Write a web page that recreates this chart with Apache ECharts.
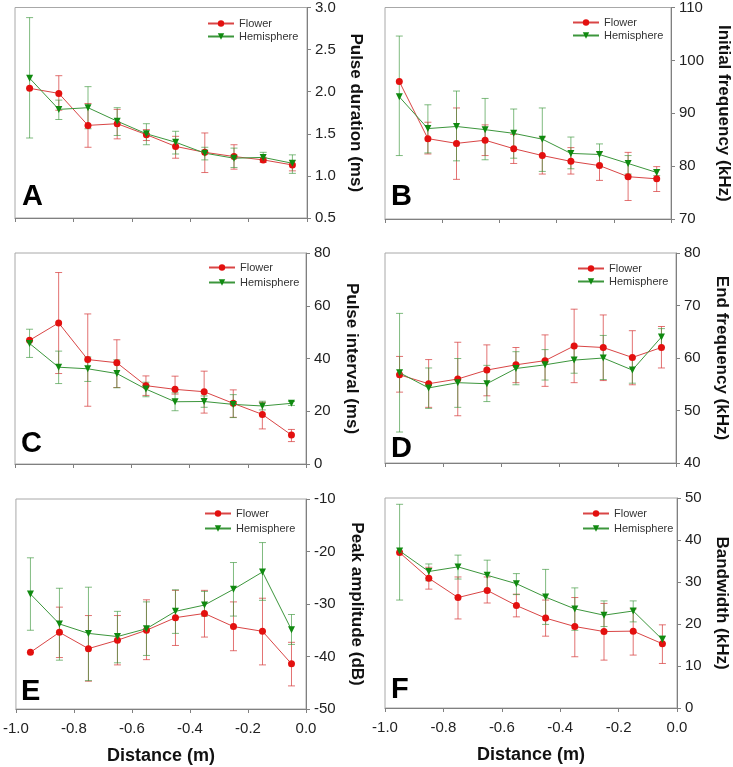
<!DOCTYPE html>
<html>
<head>
<meta charset="utf-8">
<script src="https://cdn.jsdelivr.net/npm/echarts@6/dist/echarts.min.js"></script>
<style>
html,body{margin:0;padding:0;background:#fff;}
#chart{width:733px;height:767px;}
</style>
</head>
<body>
<div id="chart"></div>
<script>
// ---------- DATA ----------
const distance = [-0.95, -0.85, -0.75, -0.65, -0.55, -0.45, -0.35, -0.25, -0.15, -0.05];
const xTicks = [-1.0, -0.8, -0.6, -0.4, -0.2, 0.0];

// A: Pulse duration (ms)
const A_flower      = [2.04, 1.98, 1.60, 1.62, 1.49, 1.35, 1.28, 1.23, 1.19, 1.13];
const A_flowerLow   = [null, 1.78, 1.34, 1.44, 1.42, 1.21, 1.04, 1.08, 1.16, 1.06];
const A_flowerHigh  = [null, 2.19, 1.86, 1.79, 1.55, 1.47, 1.51, 1.37, 1.22, 1.18];
const A_hemi        = [2.16, 1.79, 1.81, 1.65, 1.50, 1.40, 1.27, 1.21, 1.22, 1.15];
const A_hemiLow     = [1.45, 1.67, 1.56, 1.48, 1.37, 1.26, 1.19, 1.10, 1.18, 1.03];
const A_hemiHigh    = [2.88, 1.90, 2.06, 1.81, 1.62, 1.53, 1.34, 1.33, 1.28, 1.25];

// B: Initial frequency (kHz)
const B_flower      = [96.0, 85.2, 84.3, 84.9, 83.3, 82.0, 80.9, 80.1, 78.0, 77.6];
const B_flowerLow   = [null, 82.3, 77.5, 82.0, 80.5, 78.5, 78.5, 77.3, 73.5, 75.2];
const B_flowerHigh  = [null, 88.3, 91.0, 87.8, 86.0, 85.5, 83.5, 82.7, 82.6, 79.9];
const B_hemi        = [93.1, 87.1, 87.5, 86.9, 86.2, 85.1, 82.4, 82.2, 80.5, 78.8];
const B_hemiLow     = [82.0, 82.5, 81.0, 81.2, 81.5, 79.0, 79.5, 80.0, 78.5, 78.2];
const B_hemiHigh    = [104.6, 91.6, 94.2, 92.8, 90.8, 91.0, 85.5, 84.2, 82.0, 79.3];

// C: Pulse interval (ms)
const C_flower      = [46.9, 53.5, 39.6, 38.4, 29.7, 28.3, 27.4, 23.0, 18.8, 11.0];
const C_flowerLow   = [null, 34.3, 21.9, 29.0, 26.0, 26.5, 19.3, 17.7, 13.3, 8.5];
const C_flowerHigh  = [null, 72.6, 56.9, 47.1, 33.4, 33.3, 35.2, 28.1, 23.4, 13.1];
const C_hemi        = [45.7, 36.7, 36.1, 34.3, 28.4, 23.6, 23.7, 22.6, 22.0, 23.0];
const C_hemiLow     = [40.4, 30.5, 31.3, 28.9, 25.5, 20.2, 21.5, 17.6, 20.5, 22.2];
const C_hemiHigh    = [51.1, 42.8, 40.6, 39.5, 31.0, 27.0, 25.8, 26.3, 23.8, 23.7];

// D: End frequency (kHz)
const D_flower      = [56.8, 55.1, 56.0, 57.7, 58.7, 59.5, 62.3, 62.0, 60.1, 62.0];
const D_flowerLow   = [53.5, 50.6, 49.0, 52.8, 55.3, 54.6, 55.3, 55.7, 54.9, 58.1];
const D_flowerHigh  = [60.3, 59.7, 63.0, 62.5, 62.0, 64.4, 69.3, 68.2, 65.2, 66.0];
const D_hemi        = [57.2, 54.3, 55.3, 55.1, 58.0, 58.7, 59.6, 60.0, 57.7, 64.0];
const D_hemiLow     = [45.9, 50.4, 50.6, 51.7, 54.9, 55.8, 57.1, 55.9, 55.2, 62.0];
const D_hemiHigh    = [68.5, 58.1, 59.9, 58.6, 61.2, 61.6, 62.2, 64.3, 60.0, 65.6];

// E: Peak amplitude (dB)
const E_flower      = [-39.2, -35.4, -38.5, -36.9, -35.0, -32.6, -31.8, -34.3, -35.2, -41.4];
const E_flowerLow   = [null, -40.2, -44.7, -41.6, -40.6, -37.9, -36.3, -38.9, -41.6, -45.6];
const E_flowerHigh  = [null, -30.6, -32.2, -32.2, -29.2, -27.4, -27.4, -29.6, -28.9, -37.3];
const E_hemi        = [-28.1, -33.8, -35.6, -36.2, -34.7, -31.4, -30.2, -27.2, -23.9, -34.9];
const E_hemiLow     = [-35.0, -40.7, -44.6, -41.2, -39.8, -35.6, -32.3, -32.3, -29.3, -37.7];
const E_hemiHigh    = [-21.2, -27.0, -26.8, -31.4, -29.6, -27.3, -27.6, -22.1, -18.3, -32.0];

// F: Bandwidth (kHz)
const F_flower      = [37.0, 30.9, 26.3, 28.0, 24.4, 21.4, 19.4, 18.2, 18.3, 15.3];
const F_flowerLow   = [null, 28.3, 21.2, 25.0, 21.7, 17.1, 12.2, 11.4, 12.6, 10.6];
const F_flowerHigh  = [null, 33.5, 31.2, 31.2, 27.1, 25.7, 26.3, 24.9, 23.6, 19.8];
const F_hemi        = [37.4, 32.5, 33.6, 31.6, 29.6, 26.4, 23.6, 22.1, 23.1, 16.3];
const F_hemiLow     = [25.7, 30.3, 30.7, 28.0, 27.0, 19.9, 18.5, 19.4, 20.5, 15.3];
const F_hemiHigh    = [48.5, 34.3, 36.4, 35.2, 32.0, 33.0, 28.6, 25.5, 25.5, 17.2];

const panelLetters = ['A', 'B', 'C', 'D', 'E', 'F'];
const yNames = ['Pulse duration (ms)', 'Initial frequency (kHz)', 'Pulse interval (ms)',
                'End frequency (kHz)', 'Peak amplitude (dB)', 'Bandwidth (kHz)'];
const yMin = [0.5, 70, 0, 40, -50, 0];
const yMax = [3.0, 110, 80, 80, -10, 50];
const yInterval = [0.5, 10, 20, 10, 10, 10];
const xLabel = 'Distance (m)';
const seriesNames = ['Flower', 'Hemisphere'];

const panels = [
  [A_flower, A_flowerLow, A_flowerHigh, A_hemi, A_hemiLow, A_hemiHigh],
  [B_flower, B_flowerLow, B_flowerHigh, B_hemi, B_hemiLow, B_hemiHigh],
  [C_flower, C_flowerLow, C_flowerHigh, C_hemi, C_hemiLow, C_hemiHigh],
  [D_flower, D_flowerLow, D_flowerHigh, D_hemi, D_hemiLow, D_hemiHigh],
  [E_flower, E_flowerLow, E_flowerHigh, E_hemi, E_hemiLow, E_hemiHigh],
  [F_flower, F_flowerLow, F_flowerHigh, F_hemi, F_hemiLow, F_hemiHigh]
];

// ---------- LAYOUT / STYLE ----------
const FONT = 'Liberation Sans, Arial, sans-serif';
const grids = [
  {left: 15, top: 7, width: 292, height: 211},
  {left: 385, top: 7, width: 291, height: 212},
  {left: 15, top: 253, width: 291, height: 211},
  {left: 385, top: 253, width: 291, height: 210},
  {left: 14, top: 499, width: 292, height: 210},
  {left: 385, top: 498, width: 292, height: 210}
];
const nameGaps = [40, 44, 37, 37, 42, 36];
const legendPos = [
  {left: 207, top: 17}, {left: 572, top: 16},
  {left: 208, top: 261}, {left: 577, top: 262},
  {left: 204, top: 507}, {left: 582, top: 507}
];
const legendGaps = [2, 2, 4, 2, 4, 4];
const letterPos = [
  {left: 22, top: 182}, {left: 391, top: 182},
  {left: 21, top: 429}, {left: 391, top: 434},
  {left: 21, top: 677}, {left: 391, top: 675}
];

const RED = '#e3100f', RED_LINE = '#d94545', RED_ERR = 'rgba(215,60,60,0.72)';
const GREEN = '#108a10', GREEN_LINE = '#3c963c', GREEN_ERR = 'rgba(60,150,60,0.65)';
const TRI_DOWN = 'path://M0,0 L10,0 L5,9 Z';

function errSeries(i, lows, highs, color, name) {
  const data = [];
  distance.forEach((d, k) => {
    if (lows[k] !== null && highs[k] !== null) data.push([d, lows[k], highs[k]]);
  });
  return {
    type: 'custom', name: name + ' error', xAxisIndex: i, yAxisIndex: i,
    silent: true, z: 1,
    data: data,
    renderItem: function (params, api) {
      const x = api.value(0);
      const pLo = api.coord([x, api.value(1)]);
      const pHi = api.coord([x, api.value(2)]);
      const hw = 3.5;
      const st = {stroke: color, lineWidth: 1};
      return {
        type: 'group',
        children: [
          {type: 'line', shape: {x1: pLo[0], y1: pLo[1], x2: pHi[0], y2: pHi[1]}, style: st},
          {type: 'line', shape: {x1: pLo[0] - hw, y1: pLo[1], x2: pLo[0] + hw, y2: pLo[1]}, style: st},
          {type: 'line', shape: {x1: pHi[0] - hw, y1: pHi[1], x2: pHi[0] + hw, y2: pHi[1]}, style: st}
        ]
      };
    }
  };
}

function lineSeries(i, vals, name, lineColor, markColor, symbol, size, z) {
  return {
    type: 'line', name: name, xAxisIndex: i, yAxisIndex: i,
    data: distance.map((d, k) => [d, vals[k]]),
    symbol: symbol, symbolSize: size, showSymbol: true,
    lineStyle: {color: lineColor, width: 1},
    itemStyle: {color: markColor, borderWidth: 0},
    z: z, animation: false
  };
}

const option = {
  animation: false,
  backgroundColor: '#ffffff',
  textStyle: {fontFamily: FONT},
  grid: grids.map(g => Object.assign({show: true, borderColor: '#a8a8a8', borderWidth: 1, backgroundColor: 'transparent'}, g)),
  xAxis: grids.map((g, i) => ({
    type: 'value', gridIndex: i, min: xTicks[0], max: xTicks[xTicks.length - 1], interval: 0.2,
    position: 'bottom',
    name: i >= 4 ? xLabel : '', nameLocation: 'middle', nameGap: 38,
    nameTextStyle: {fontSize: 18, fontWeight: 'bold', color: '#111', fontFamily: FONT},
    axisLine: {show: true, onZero: false, lineStyle: {color: '#808080', width: 1}},
    axisTick: {show: true, inside: false, length: 4, lineStyle: {color: '#808080'}},
    axisLabel: {show: i >= 4, fontSize: 15, color: '#222', margin: 12, fontFamily: FONT,
                formatter: v => v.toFixed(1)},
    splitLine: {show: false}
  })),
  yAxis: grids.map((g, i) => ({
    type: 'value', gridIndex: i, position: 'right',
    min: yMin[i], max: yMax[i], interval: yInterval[i],
    name: yNames[i], nameLocation: 'middle', nameRotate: -90, nameGap: nameGaps[i],
    nameTextStyle: {fontSize: 17, fontWeight: 'bold', color: '#111', fontFamily: FONT},
    axisLine: {show: true, onZero: false, lineStyle: {color: '#808080', width: 1}},
    axisTick: {show: true, inside: false, length: 4, lineStyle: {color: '#808080'}},
    axisLabel: {fontSize: 15, color: '#222', margin: 8, fontFamily: FONT,
                formatter: v => (i === 0 ? v.toFixed(1) : String(Math.round(v)))},
    splitLine: {show: false}
  })),
  legend: grids.map((g, i) => ({
    data: seriesNames, orient: 'vertical', padding: 0,
    left: legendPos[i].left, top: legendPos[i].top + 1,
    itemWidth: 26, itemHeight: 8, itemGap: legendGaps[i],
    textStyle: {fontSize: 11, color: '#333', fontFamily: FONT},
    selectedMode: false
  })),
  title: panelLetters.map((t, i) => ({
    text: t, left: letterPos[i].left, top: letterPos[i].top, padding: 0,
    textStyle: {fontSize: 29, fontWeight: 'bold', color: '#000', fontFamily: FONT}
  })),
  series: []
};

panels.forEach((p, i) => {
  option.series.push(errSeries(i, p[1], p[2], RED_ERR, 'Flower'));
  option.series.push(errSeries(i, p[4], p[5], GREEN_ERR, 'Hemisphere'));
  option.series.push(lineSeries(i, p[0], 'Flower', RED_LINE, RED, 'circle', 7, 3));
  option.series.push(lineSeries(i, p[3], 'Hemisphere', GREEN_LINE, GREEN, TRI_DOWN, 7, 4));
});

const chart = echarts.init(document.getElementById('chart'), null, {renderer: 'canvas'});
chart.setOption(option);
</script>
</body>
</html>
